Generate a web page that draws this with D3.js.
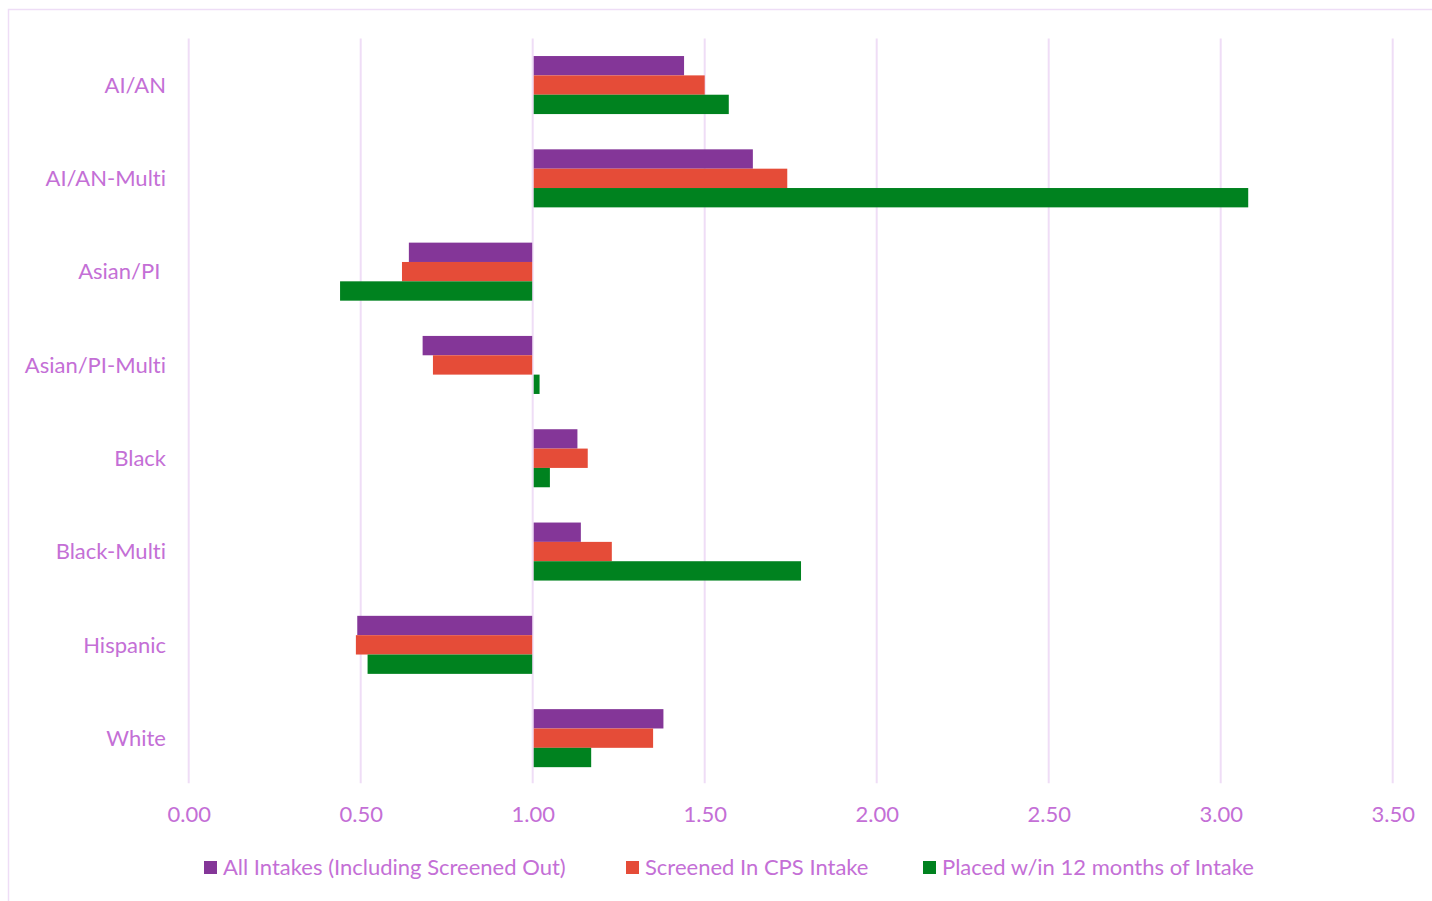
<!DOCTYPE html>
<html>
<head>
<meta charset="utf-8">
<script src="https://cdn.jsdelivr.net/npm/d3@7"></script>
<style>
  html, body { margin: 0; padding: 0; background: #fff; }
  svg { display: block; }
  text { font-family: Lato, "Open Sans", sans-serif; fill: #C46FD6; font-variant-ligatures: none; white-space: pre; }
</style>
</head>
<body>
<svg id="chart" width="1432" height="901"></svg>
<script>
const categories = ["AI/AN", "AI/AN-Multi", "Asian/PI ", "Asian/PI-Multi", "Black", "Black-Multi", "Hispanic", "White"];
const seriesNames = ["All Intakes (Including Screened Out)", "Screened In CPS Intake", "Placed w/in 12 months of Intake"];
const allIntakes = [1.44, 1.64, 0.64, 0.68, 1.13, 1.14, 0.49, 1.38];
const screenedIn = [1.50, 1.74, 0.62, 0.71, 1.16, 1.23, 0.486, 1.35];
const placed12m  = [1.57, 3.08, 0.44, 1.02, 1.05, 1.78, 0.52, 1.17];
const xTicks = [0, 0.5, 1, 1.5, 2, 2.5, 3, 3.5];
const colors = ["#843698", "#E54C38", "#00821F"];

const seriesValues = [allIntakes, screenedIn, placed12m];
const svg = d3.select("#chart");
const FS = 22;

// outer chart border
svg.append("rect").attr("x", 8.5).attr("y", 9.5).attr("width", 1440).attr("height", 900)
  .attr("fill", "none").attr("stroke", "#EEDDF6").attr("stroke-width", 1.5);

const plot = { left: 188.7, right: 1392.7, top: 38.4, bottom: 784.8 };
const x = d3.scaleLinear().domain([0, 3.5]).range([plot.left, plot.right]);
const y = d3.scaleBand().domain(categories).range([plot.top, plot.bottom]).paddingInner(0.378).paddingOuter(0.189);
const ySeries = d3.scaleBand().domain(d3.range(3)).range([0, y.bandwidth()]);

// gridlines
svg.append("g").selectAll("line").data(xTicks).join("line")
  .attr("x1", d => x(d)).attr("x2", d => x(d))
  .attr("y1", plot.top).attr("y2", plot.bottom - 1.5)
  .attr("stroke", "#EFDDF6").attr("stroke-width", 2);

// x axis labels
const xAxis = d3.axisBottom(x).tickValues(xTicks).tickFormat(d3.format(".2f")).tickSize(0).tickPadding(0);
const gx = svg.append("g").attr("transform", `translate(0, ${plot.bottom + 22})`).call(xAxis);
gx.select(".domain").remove();
gx.selectAll("text").attr("font-family", "Lato, sans-serif").attr("font-size", FS)
  .attr("fill", "#C46FD6").attr("dy", "0.71em");

// y axis labels
const yAxis = d3.axisLeft(y).tickSize(0).tickPadding(0);
const gy = svg.append("g").attr("transform", `translate(166, 0)`).call(yAxis);
gy.select(".domain").remove();
gy.selectAll("text").attr("font-family", "Lato, sans-serif").attr("font-size", FS)
  .attr("fill", "#C46FD6").attr("dy", "0.35em");

// bars
const base = 1;
const groups = svg.append("g").selectAll("g").data(categories).join("g")
  .attr("transform", c => `translate(0, ${y(c)})`);
groups.selectAll("rect").data((c, i) => seriesValues.map((s, k) => ({ k, v: s[i] }))).join("rect")
  .attr("x", d => d.v >= base ? x(base) + 1 : x(d.v))
  .attr("width", d => d.v >= base ? x(d.v) - x(base) - 1 : x(base) - x(d.v) - 0.5)
  .attr("y", d => ySeries(d.k))
  .attr("height", ySeries.bandwidth())
  .attr("fill", d => colors[d.k]);

// legend
const legendX = [204, 626, 923];
const leg = svg.append("g").selectAll("g").data(seriesNames).join("g")
  .attr("transform", (d, i) => `translate(${legendX[i]}, 861)`);
leg.append("rect").attr("width", 13).attr("height", 13).attr("fill", (d, i) => colors[i]);
leg.append("text").attr("x", 19).attr("y", 6.5).attr("dy", "0.35em")
  .attr("font-size", FS).text(d => d);
</script>
</body>
</html>
